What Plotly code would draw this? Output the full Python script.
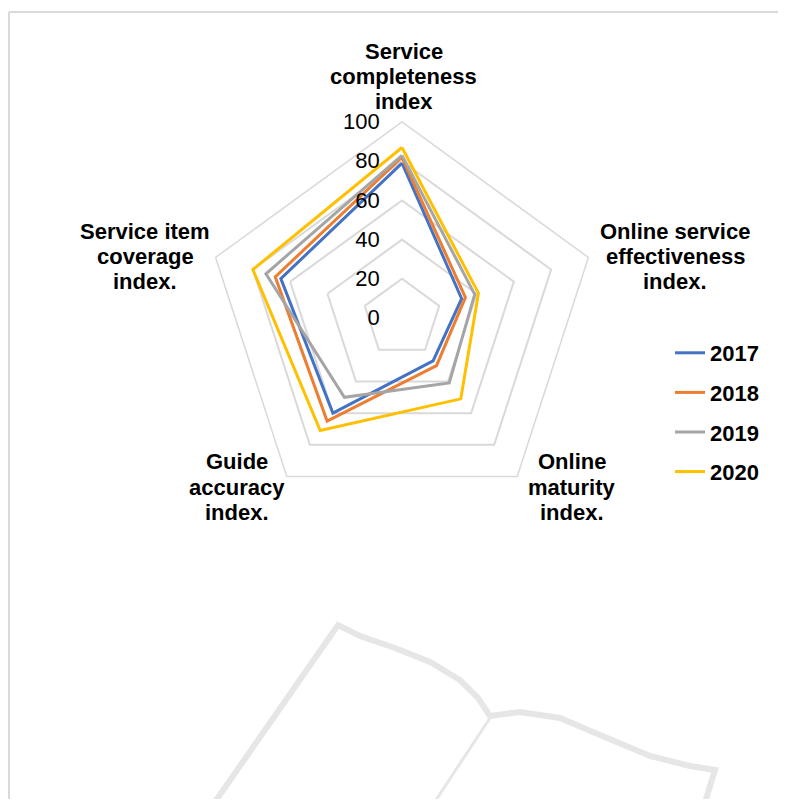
import plotly.graph_objects as go

categories = [
    "Service completeness index",
    "Online service effectiveness index.",
    "Online maturity index.",
    "Guide accuracy index.",
    "Service item coverage index.",
]
category_lines = [
    ["Service", "completeness", "index"],
    ["Online service", "effectiveness", "index."],
    ["Online", "maturity", "index."],
    ["Guide", "accuracy", "index."],
    ["Service item", "coverage", "index."],
]
years = ["2017", "2018", "2019", "2020"]
values_2017 = [79, 32, 27, 60, 65]
values_2018 = [82, 34, 30, 65, 68]
values_2019 = [83, 39, 41, 50, 73]
values_2020 = [87, 41, 51, 71, 80]
radial_ticks = [0, 20, 40, 60, 80, 100]

series = [values_2017, values_2018, values_2019, values_2020]
colors = ["#4472C4", "#ED7D31", "#A5A5A5", "#FFC000"]

OFF = 8  # page body margin
W, H = 786 - 2 * OFF, 807 - 2 * OFF
FONT = "Liberation Sans, Arial, sans-serif"

fig = go.Figure()
for i, (yr, vals) in enumerate(zip(years, series)):
    fig.add_trace(go.Scatterpolar(
        r=vals + vals[:1],
        theta=categories + categories[:1],
        mode="lines",
        name=yr,
        legendgroup=yr,
        line=dict(color=colors[i], width=3),
    ))

cx, cy, R = 402, 318, 196


def px(x):
    return (x - OFF) / W


def py(y):
    return 1 - (y - OFF) / H


def path(points):
    return "M " + " L ".join(f"{px(x):.4f},{py(y):.4f}" for x, y in points)


frame = dict(color="#D9D9D9", width=2)
shapes = [
    dict(type="line", xref="paper", yref="paper",
         x0=px(9), x1=px(800), y0=py(12), y1=py(12), line=frame, layer="below"),
    dict(type="line", xref="paper", yref="paper",
         x0=px(9), x1=px(9), y0=py(12), y1=py(820), line=frame, layer="below"),
    dict(type="path", xref="paper", yref="paper",
         path=path([(208, 812), (338, 625), (360, 636), (395, 648), (430, 662),
                    (460, 680), (478, 698), (490, 716), (520, 712), (560, 718),
                    (600, 735), (650, 756), (690, 766), (715, 770), (702, 812)]),
         line=dict(color="#E6E6E6", width=6), layer="below"),
    dict(type="path", xref="paper", yref="paper",
         path=path([(490, 718), (428, 812)]),
         line=dict(color="#E6E6E6", width=3), layer="below"),
]

# category labels: centred text blocks placed outside each spoke
label_centres = [(404, 76), (675, 256), (572, 487), (237, 487), (145, 256)]
annotations = []
for lines, (lx, ly) in zip(category_lines, label_centres):
    n = len(lines)
    for j, t in enumerate(lines):
        yy = ly + (j - (n - 1) / 2) * 25
        annotations.append(dict(
            x=px(lx), y=py(yy), xref="paper", yref="paper",
            text=t, showarrow=False, xanchor="center", yanchor="middle",
            font=dict(family=FONT, size=22, color="black", weight="bold"),
        ))

fig.update_layout(
    width=W, height=H,
    margin=dict(l=0, r=0, t=0, b=0),
    paper_bgcolor="white",
    plot_bgcolor="white",
    font=dict(family=FONT, size=22, color="black"),
    showlegend=True,
    polar=dict(
        domain=dict(x=[px(cx - R), px(cx + R)], y=[py(cy + R), py(cy - R)]),
        bgcolor="rgba(0,0,0,0)",
        gridshape="linear",
        radialaxis=dict(
            range=[0, 100],
            tickvals=radial_ticks,
            angle=90,
            side="counterclockwise",
            tickangle=90,
            showline=False,
            showgrid=True,
            gridcolor="#D9D9D9",
            gridwidth=1.5,
            ticks="outside",
            ticklen=14,
            tickcolor="rgba(0,0,0,0)",
            tickfont=dict(family=FONT, size=22, color="black"),
        ),
        angularaxis=dict(
            direction="clockwise",
            rotation=90,
            showgrid=False,
            showline=True,
            linecolor="#D9D9D9",
            linewidth=1.5,
            ticks="",
            showticklabels=False,
        ),
    ),
    legend=dict(
        x=px(670), y=py(332), xanchor="left", yanchor="top",
        font=dict(family=FONT, size=22, color="black", weight="bold"),
        tracegroupgap=8,
        bgcolor="rgba(0,0,0,0)",
    ),
    shapes=shapes,
    annotations=annotations,
)

fig.write_html("out.html")
